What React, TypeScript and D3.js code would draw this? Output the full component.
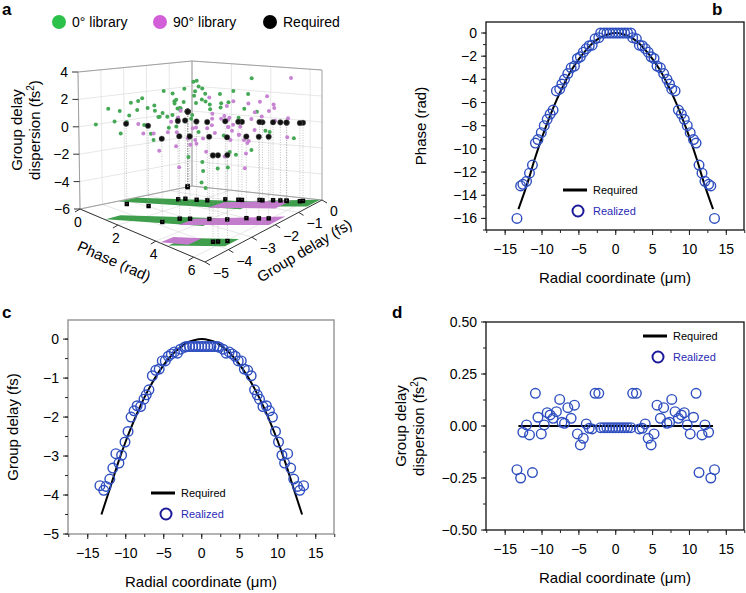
import * as d3 from 'd3'

// realized sample positions (left half, mirrored to the right)
const rLeft = [-13.4, -12.9, -12.6, -12.1, -11.7, -11.3, -10.9, -10.55, -10.1, -9.7, -9.3, -8.9, -8.5, -8.05, -7.6, -7.3, -6.95, -6.5, -6.05, -5.6, -5.2, -4.8, -4.4, -4.0, -3.6, -3.2, -2.8, -2.3, -2.05]
const phaseLeft = [-16, -13.2, -13.06, -12.8, -12.1, -11.4, -9.5, -9.2, -8.6, -8.0, -7.45, -7.0, -6.65, -5.0, -4.85, -4.4, -4.0, -3.5, -3.0, -2.85, -2.2, -2.05, -1.65, -1.35, -1.1, -1.05, -0.5, -0.4, 0]
const gdLeft = [-3.76, -3.88, -3.78, -3.59, -3.31, -2.94, -3.18, -2.98, -2.64, -2.37, -2.0, -1.84, -1.71, -1.73, -1.54, -1.43, -1.3, -0.94, -0.8, -0.77, -0.56, -0.56, -0.44, -0.38, -0.33, -0.36, -0.26, -0.21, -0.19]
const gddLeft = [-0.21, -0.25, -0.03, 0.005, -0.043, -0.224, 0.157, 0.042, -0.038, 0.005, 0.064, 0.053, 0.037, 0.069, 0.128, 0.018, 0.013, 0.088, 0.037, 0.1, -0.038, -0.091, -0.059, 0.01, -0.011, -0.014, 0.157, 0.157, -0.008]
const rCenter = [-1.6, -1.2, -0.8, -0.4, 0, 0.4, 0.8, 1.2, 1.6]
const phaseCenter = 0
const gdCenter = -0.19
const gddCenter = -0.008

// required curves (r >= 0, mirrored)
const reqR = [0, 1, 2, 3, 4, 5, 6, 7, 8, 9, 10, 11, 12, 13.2]
const reqPhase = [0, -0.1, -0.35, -0.8, -1.45, -2.25, -3.2, -4.4, -5.75, -7.3, -9, -10.9, -13, -15.2]
const reqGd = [0, -0.03, -0.1, -0.24, -0.42, -0.66, -0.95, -1.29, -1.68, -2.13, -2.62, -3.17, -3.78, -4.5]

// panel a library samples [phase, group delay, dispersion]
const lib0 = [[0.3,-0.8,0.5],[0.5,-1.2,1.0],[0.8,-0.6,1.5],[1.0,-1.5,0.8],[1.2,-0.9,2.0],[0.6,-2.0,0.2],[1.5,-0.7,1.2],[1.8,-1.1,2.4],[2.0,-0.5,1.8],[0.4,-2.3,0.9],[1.1,-2.6,1.4],[1.6,-2.0,0.4],[2.2,-1.6,2.8],[2.5,-0.9,1.0],[0.9,-1.8,-0.6],[1.4,-2.9,-1.0],[2.8,-0.6,2.2],[3.0,-1.3,1.6],[0.2,-1.6,0.0],[0.7,-0.4,2.6],[1.9,-2.4,1.9],[2.4,-2.1,0.6],[3.3,-0.8,0.3],[3.6,-1.7,-0.5],[4.0,-0.6,0.8],[4.5,-2.2,-1.2],[5.0,-0.9,-0.4],[5.5,-1.5,0.2],[6.0,-0.7,-0.8],[4.8,-3.6,-1.6],[5.2,-4.0,-2.0],[5.8,-3.8,-0.9],[6.2,-4.1,0.4],[2.7,-3.0,0.5],[3.8,-2.8,-1.8],[1.3,-3.3,2.2],[0.5,-2.8,1.6],[2.1,-3.6,0.0],[3.5,-0.4,3.2],[1.7,-1.4,3.0],[0.35,-1.0,1.2],[0.9,-1.3,0.6],[1.25,-0.5,1.7],[1.55,-1.7,1.5],[2.3,-1.2,1.3],[0.65,-0.9,2.1],[1.05,-2.2,0.7],[2.6,-1.8,2.0],[4.3,-1.4,1.5],[5.3,-2.6,-0.9],[0.15,-2.9,0.4],[0.25,-3.4,0.9],[0.45,-3.8,0.3],[0.8,-3.1,1.1],[1.2,-3.9,0.6],[0.6,-4.2,1.4],[0.3,-4.5,0.2],[1.0,-4.0,-0.3],[1.6,-3.0,1.3],[2.0,-2.8,0.9],[1.4,-1.2,0.3],[0.75,-1.5,1.9],[1.85,-0.8,0.7],[2.2,-0.3,1.1],[0.55,-0.3,0.8],[1.35,-2.4,2.5],[2.9,-2.2,-0.2],[3.2,-0.3,1.9],[5.6,-3.2,-1.3],[6.1,-2.6,-0.3],[4.4,-3.9,-0.6],[5.9,-4.4,-1.8],[3.1,-3.5,1.7],[2.45,-2.6,1.6],[0.95,-3.5,1.8],[1.75,-3.6,0.5]]
const lib90 = [[3.0,-1.0,0.2],[3.4,-1.5,0.8],[3.8,-0.8,1.5],[4.2,-1.8,0.5],[4.6,-1.2,1.2],[5.0,-2.0,-0.3],[5.4,-1.0,0.6],[5.8,-1.6,1.8],[6.2,-0.6,0.3],[2.6,-2.2,0.0],[3.2,-2.6,-0.5],[3.6,-2.2,1.0],[4.0,-2.8,-1.0],[4.4,-0.5,2.0],[4.8,-2.5,0.9],[5.2,-3.0,-0.8],[5.6,-2.3,0.0],[6.0,-2.8,-1.5],[6.4,-1.9,2.6],[2.8,-0.6,1.4],[3.9,-3.4,-0.2],[4.7,-3.8,0.4],[5.5,-0.4,3.5],[6.1,-3.5,1.0],[2.4,-1.4,-0.4],[3.1,-1.9,2.3],[4.1,-1.1,-1.3],[5.1,-1.4,2.2],[5.9,-0.9,-0.6],[6.3,-1.2,1.1],[3.3,-1.2,0.5],[3.7,-1.6,0.1],[4.5,-2.1,0.3],[4.9,-1.6,1.0],[3.5,-2.0,-0.2],[4.3,-2.4,1.3],[2.9,-1.6,0.9],[5.3,-1.8,0.4],[3.9,-1.3,-0.6],[4.6,-0.9,0.7],[2.2,-2.8,0.6],[2.5,-3.2,0.1],[2.8,-3.0,1.2],[3.4,-3.6,-0.4],[2.0,-3.4,-0.1],[1.8,-3.9,0.7],[2.3,-4.1,0.3],[3.0,-4.0,-0.7],[3.6,-2.9,0.7],[4.2,-3.1,0.2],[2.7,-2.5,-0.6],[3.5,-0.9,-0.3],[4.0,-1.9,1.9],[5.0,-0.7,1.3],[5.7,-2.8,0.8],[6.3,-3.0,-0.2],[4.9,-3.3,1.5],[2.1,-2.3,1.2],[3.8,-3.9,0.9],[4.4,-4.3,-1.1]]
// floor bands [phase, group delay] polygons
const bands0 = [[[0.05,-2.5],[4.2,-0.7],[4.2,-1.5],[0.05,-3.3]], [[1.3,-4.3],[4.3,-2.4],[4.3,-3.2],[1.3,-4.95]], [[4.6,-4.2],[6.3,-3.3],[6.3,-3.9],[4.6,-4.95]], [[4.5,-0.5],[6.5,0],[6.5,-0.55],[4.5,-1.1]]]
const bands90 = [[[3.0,-1.2],[5.4,-0.3],[5.4,-1.0],[3.0,-1.9]], [[3.5,-2.9],[6.4,-1.4],[6.4,-2.1],[3.5,-3.6]], [[4.2,-4.4],[5.1,-3.9],[5.1,-4.5],[4.2,-4.95]]]

const FONT = 'Liberation Sans, Arial, sans-serif'
const BLUE = '#2f4fc0'
const TWO_PI = Math.PI * 2

const mirror = (a: number[], neg = false) => a.slice().reverse().map(v => (neg ? -v : v))
const realR = [...rLeft, ...rCenter, ...mirror(rLeft, true)]
const realPhase = [...phaseLeft, ...rCenter.map(() => phaseCenter), ...mirror(phaseLeft)]
const realGd = [...gdLeft, ...rCenter.map(() => gdCenter), ...mirror(gdLeft)]
const realGdd = [...gddLeft, ...rCenter.map(() => gddCenter), ...mirror(gddLeft)]
const reqRFull = [...mirror(reqR, true), ...reqR.slice(1)]

type PanelProps = {
  left: number; top: number; width: number; height: number
  yDomain: [number, number]; yTicks: number[]; yMinor: number[]; yFmt: (v: number) => string
  ys: number[]; req: [number, number][]; frame: string
  legend: [number, number]
}

function Panel(p: PanelProps) {
  const x = d3.scaleLinear().domain([-17.6, 17.4]).range([p.left, p.left + p.width])
  const y = d3.scaleLinear().domain(p.yDomain).range([p.top + p.height, p.top])
  const xTicks = [-15, -10, -5, 0, 5, 10, 15]
  const xMinor = d3.range(-17.5, 17.6, 2.5)
  const line = d3.line<[number, number]>().x(d => x(d[0])).y(d => y(d[1])).curve(d3.curveMonotoneX)
  const bottom = p.top + p.height
  const [lx, ly] = p.legend
  return (
    <g fontFamily={FONT}>
      <rect x={p.left} y={p.top} width={p.width} height={p.height} fill="none" stroke={p.frame} strokeWidth={1.3} />
      {xMinor.map(t => <line key={'xm' + t} x1={x(t)} x2={x(t)} y1={bottom} y2={bottom + 3} stroke="#222" />)}
      {xTicks.map(t => (
        <g key={'x' + t}>
          <line x1={x(t)} x2={x(t)} y1={bottom} y2={bottom + 5} stroke="#222" />
          <text x={x(t)} y={bottom + 24} textAnchor="middle" fontSize={14}>{t < 0 ? '\u2212' + -t : t}</text>
        </g>
      ))}
      {p.yMinor.map(t => <line key={'ym' + t} x1={p.left - 3} x2={p.left} y1={y(t)} y2={y(t)} stroke="#222" />)}
      {p.yTicks.map(t => (
        <g key={'y' + t}>
          <line x1={p.left - 5} x2={p.left} y1={y(t)} y2={y(t)} stroke="#222" />
          <text x={p.left - 9} y={y(t) + 5} textAnchor="end" fontSize={14}>{p.yFmt(t)}</text>
        </g>
      ))}
      <path d={line(p.req) || ''} fill="none" stroke="#000" strokeWidth={2} />
      {realR.map((r, i) => (
        <circle key={'p' + i} cx={x(r)} cy={y(p.ys[i])} r={4.8} fill="none" stroke={BLUE} strokeWidth={1.4} />
      ))}
      <line x1={lx} x2={lx + 24} y1={ly} y2={ly} stroke="#000" strokeWidth={3} />
      <text x={lx + 30} y={ly + 4} fontSize={11}>Required</text>
      <circle cx={lx + 15} cy={ly + 21} r={5.5} fill="none" stroke="#1b1b9a" strokeWidth={2} />
      <text x={lx + 30} y={ly + 25} fontSize={11} fill="#2a2ab5">Realized</text>
      <text x={p.left + p.width / 2} y={bottom + 53} textAnchor="middle" fontSize={15}>Radial coordinate (μm)</text>
    </g>
  )
}

const sgn = (v: number, d = 0) => (v < 0 ? '\u2212' + (-v).toFixed(d) : v.toFixed(d))

// panel a pseudo-perspective box
const PH_MAX = 6.6
const floorC = { L: [80, 209], F: [205, 262], R: [322, 200], B: [192, 186] }
const topC = { L: [78, 72], F: [205, 112], R: [322, 70], B: [192, 61] }
function bil(c: typeof floorC, u: number, v: number) {
  const w = [(1 - u) * (1 - v), u * (1 - v), u * v, (1 - u) * v]
  const pts = [c.L, c.F, c.R, c.B]
  return [0, 1].map(k => pts.reduce((s, pt, i) => s + pt[k] * w[i], 0))
}
function proj(ph: number, gd: number, gdd: number): [number, number] {
  const u = ph / PH_MAX, v = (gd + 5) / 5, w = (gdd + 6) / 10
  const f = bil(floorC, u, v), t = bil(topC, u, v)
  return [f[0] + (t[0] - f[0]) * w, f[1] + (t[1] - f[1]) * w]
}

function Panel3D() {
  const gddTicks = [-6, -4, -2, 0, 2, 4]
  const phTicks = [0, 2, 4, 6]
  const gdTicks = [0, -1, -2, -3, -4, -5]
  const grid = '#dcdcdc'
  const edge = '#a0a0a0'
  const seg = (a: [number, number], b: [number, number], k: string, col = grid, sw = 0.7) =>
    <line key={k} x1={a[0]} y1={a[1]} x2={b[0]} y2={b[1]} stroke={col} strokeWidth={sw} />
  const reqPts = realR.map((r, i) => ({ r, ph: ((realPhase[i] % TWO_PI) + TWO_PI) % TWO_PI, gd: realGd[i] })).filter(d => d.r >= 0)
  const poly = (b: number[][]) => b.map(q => proj(q[0], q[1], -6).join(',')).join(' ')
  const pts0 = lib0.map(d => ({ d, p: proj(d[0], d[1], d[2]) }))
  const pts90 = lib90.map(d => ({ d, p: proj(d[0], d[1], d[2]) }))
  return (
    <g fontFamily={FONT}>
      {gddTicks.map(t => seg(proj(0, -5, t), proj(0, 0, t), 'lw' + t))}
      {gddTicks.map(t => seg(proj(0, 0, t), proj(PH_MAX, 0, t), 'rw' + t))}
      {gdTicks.map(t => seg(proj(0, t, -6), proj(0, t, 4), 'lv' + t))}
      {phTicks.map(t => seg(proj(t, 0, -6), proj(t, 0, 4), 'rv' + t))}
      {gdTicks.map(t => seg(proj(0, t, -6), proj(PH_MAX, t, -6), 'fg' + t))}
      {phTicks.map(t => seg(proj(t, -5, -6), proj(t, 0, -6), 'fp' + t))}
      {seg(proj(0, -5, -6), proj(0, -5, 4), 'e1', edge, 1)}
      {seg(proj(0, 0, -6), proj(0, 0, 4), 'e2', edge, 1)}
      {seg(proj(PH_MAX, 0, -6), proj(PH_MAX, 0, 4), 'e3', edge, 1)}
      {seg(proj(0, -5, 4), proj(0, 0, 4), 'e4', edge, 1)}
      {seg(proj(0, 0, 4), proj(PH_MAX, 0, 4), 'e5', edge, 1)}
      {seg(proj(0, -5, -6), proj(0, 0, -6), 'e6', edge, 1)}
      {seg(proj(0, 0, -6), proj(PH_MAX, 0, -6), 'e7', edge, 1)}
      {seg(proj(0, -5, -6), proj(PH_MAX, -5, -6), 'e8', '#333', 1)}
      {seg(proj(PH_MAX, -5, -6), proj(PH_MAX, 0, -6), 'e9', '#333', 1)}
      {bands0.map((b, i) => <polygon key={'b0' + i} points={poly(b)} fill="#3f9e4c" />)}
      {bands90.map((b, i) => <polygon key={'b9' + i} points={poly(b)} fill="#c37ccc" />)}
      {reqPts.map((d, i) => {
        const [px, py] = proj(d.ph, d.gd, -6)
        return <rect key={'fs' + i} x={px - 2.2} y={py - 2.2} width={4.4} height={4.4} fill="#000" />
      })}
      {reqPts.map((d, i) => {
        const a = proj(d.ph, d.gd, -6), b = proj(d.ph, d.gd, 0)
        return <line key={'dl' + i} x1={a[0]} y1={a[1]} x2={b[0]} y2={b[1]} stroke="#999" strokeWidth={0.6} strokeDasharray="1,1.5" />
      })}
      {pts0.map((o, i) => <circle key={'g' + i} cx={o.p[0]} cy={o.p[1]} r={2} fill="#44a855" />)}
      {pts90.map((o, i) => <circle key={'m' + i} cx={o.p[0]} cy={o.p[1]} r={2} fill="#c784d2" />)}
      {reqPts.map((d, i) => {
        const [px, py] = proj(d.ph, d.gd, 0)
        return <circle key={'rq' + i} cx={px} cy={py} r={2.8} fill="#111" stroke="#777" strokeWidth={0.4} />
      })}
      {gddTicks.map(t => {
        const [px, py] = proj(0, -5, t)
        return (
          <g key={'zt' + t}>
            <line x1={px - 6} x2={px} y1={py} y2={py} stroke="#333" />
            <text x={px - 10} y={py + 5} textAnchor="end" fontSize={14}>{sgn(t)}</text>
          </g>
        )
      })}
      {phTicks.map(t => {
        const [px, py] = proj(t, -5, -6)
        return (
          <g key={'pt' + t}>
            <line x1={px} x2={px - 5} y1={py} y2={py + 3} stroke="#333" />
            <text x={px - 2} y={py + 18} textAnchor="middle" fontSize={14}>{t}</text>
          </g>
        )
      })}
      {gdTicks.map(t => {
        const [px, py] = proj(PH_MAX, t, -6)
        return (
          <g key={'gt' + t}>
            <line x1={px} x2={px + 5} y1={py} y2={py + 3} stroke="#333" />
            <text x={px + 8} y={py + 16} textAnchor="start" fontSize={14}>{sgn(t)}</text>
          </g>
        )
      })}
      <text transform="translate(112,266) rotate(24)" textAnchor="middle" fontSize={15}>Phase (rad)</text>
      <text transform="translate(307,255) rotate(-31)" textAnchor="middle" fontSize={15}>Group delay (fs)</text>
      <text transform="translate(22,130) rotate(-90)" textAnchor="middle" fontSize={15}>Group delay</text>
      <text transform="translate(40,130) rotate(-90)" textAnchor="middle" fontSize={15}>dispersion (fs<tspan dy={-6} fontSize={10}>2</tspan><tspan dy={6}>)</tspan></text>
      <circle cx={59} cy={22} r={7} fill="#2cc14a" />
      <text x={72} y={27} fontSize={14}>0° library</text>
      <circle cx={160} cy={22} r={7} fill="#d35fd8" />
      <text x={173} y={27} fontSize={14}>90° library</text>
      <circle cx={270} cy={22} r={7} fill="#000" />
      <text x={283} y={27} fontSize={14}>Required</text>
    </g>
  )
}

export default function App() {
  const reqPhaseFull = [...mirror(reqPhase), ...reqPhase.slice(1)]
  const reqGdFull = [...mirror(reqGd), ...reqGd.slice(1)]
  const zip = (a: number[], b: number[]) => a.map((v, i) => [v, b[i]] as [number, number])
  return (
    <svg width={746} height={593} style={{ display: 'block', position: 'fixed', left: 0, top: 0 }}>
      <rect width={746} height={593} fill="#fff" />
      <text x={2} y={15} fontSize={17} fontWeight="bold" fontFamily={FONT}>a</text>
      <text x={712} y={15} fontSize={17} fontWeight="bold" fontFamily={FONT}>b</text>
      <text x={2} y={318} fontSize={17} fontWeight="bold" fontFamily={FONT}>c</text>
      <text x={392} y={318} fontSize={17} fontWeight="bold" fontFamily={FONT}>d</text>
      <Panel3D />
      <Panel left={486} top={22} width={258} height={208} yDomain={[-17, 0.95]}
        yTicks={d3.range(-16, 1, 2)} yMinor={d3.range(-17, 1, 1)} yFmt={v => sgn(v)}
        ys={realPhase} req={zip(reqRFull, reqPhaseFull)} frame="#111" legend={[563, 190]} />
      <text transform="translate(426,126) rotate(-90)" textAnchor="middle" fontSize={15} fontFamily={FONT}>Phase (rad)</text>
      <Panel left={68} top={320} width={266} height={214} yDomain={[-5, 0.49]}
        yTicks={[-5, -4, -3, -2, -1, 0]} yMinor={d3.range(-5, 0.5, 0.5)} yFmt={v => sgn(v)}
        ys={realGd} req={zip(reqRFull, reqGdFull)} frame="#8a8a8a" legend={[151, 493]} />
      <text transform="translate(18,427) rotate(-90)" textAnchor="middle" fontSize={15} fontFamily={FONT}>Group delay (fs)</text>
      <Panel left={486} top={322} width={258} height={208} yDomain={[-0.5, 0.5]}
        yTicks={[-0.5, -0.25, 0, 0.25, 0.5]} yMinor={d3.range(-0.5, 0.51, 0.125)} yFmt={v => sgn(v, 2)}
        ys={realGdd} req={[[-13.2, 0], [13.2, 0]]} frame="#111" legend={[643, 336]} />
      <text transform="translate(406,426) rotate(-90)" textAnchor="middle" fontSize={15} fontFamily={FONT}>Group delay</text>
      <text transform="translate(424,426) rotate(-90)" textAnchor="middle" fontSize={15} fontFamily={FONT}>dispersion (fs<tspan dy={-6} fontSize={10}>2</tspan><tspan dy={6}>)</tspan></text>
    </svg>
  )
}
